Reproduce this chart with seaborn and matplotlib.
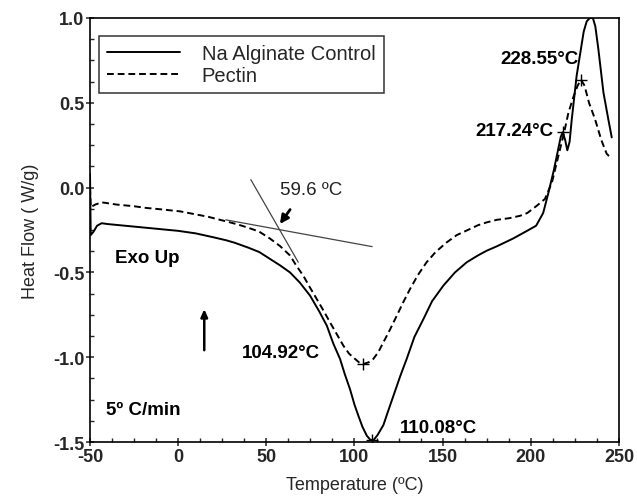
import numpy as np
import pandas as pd
import matplotlib
matplotlib.use("Agg")
import matplotlib.pyplot as plt
from matplotlib.ticker import MultipleLocator
import seaborn as sns

# DSC curves
temp_alg = [-50, -49.6, -48, -46, -43.4, -40, -35, -27, -15, -8, 0, 10, 20, 27, 32, 36, 40, 46,
            52, 58, 63.4, 69, 74.8, 80, 84.3, 88, 91.8, 94.5, 97.5, 100, 102.2, 104.5, 107, 109,
            110.7, 113, 116.4, 119, 122.1, 126, 129.6, 134, 139.1, 144, 150.4, 157, 163.7, 170,
            175, 181, 190, 197, 203, 207, 210, 213, 215, 217, 218.1, 219.5, 220.7, 222, 223.2,
            226, 228, 230, 231.7, 233.5, 235.2, 236.6, 238.3, 241.2, 244, 245.9]
flow_alg = [0.08, -0.28, -0.26, -0.225, -0.21, -0.215, -0.22, -0.228, -0.24, -0.247, -0.255,
            -0.27, -0.293, -0.31, -0.325, -0.34, -0.355, -0.38, -0.42, -0.46, -0.50, -0.56,
            -0.637, -0.73, -0.814, -0.92, -1.01, -1.10, -1.19, -1.28, -1.345, -1.41, -1.463,
            -1.487, -1.49, -1.46, -1.40, -1.32, -1.227, -1.11, -1.01, -0.88, -0.775, -0.67,
            -0.578, -0.50, -0.44, -0.40, -0.372, -0.345, -0.30, -0.26, -0.225, -0.15, -0.03,
            0.10, 0.2, 0.30, 0.326, 0.28, 0.22, 0.27, 0.40, 0.66, 0.79, 0.92, 0.98, 1.0, 1.0,
            0.95, 0.817, 0.56, 0.40, 0.296]

temp_pec = [-50, -49.6, -47, -43.4, -40, -35, -25, -18, -10, 1, 10, 17, 23.7, 29.4, 34, 38.9, 42,
            46, 52, 57.8, 63.4, 67, 71, 74.8, 78.6, 82.4, 86.1, 90, 93.7, 97, 100.3, 102.5, 105,
            108, 110.7, 113.5, 116.4, 120, 124, 127.7, 131.5, 136, 140.9, 146, 152.3, 158, 165.5,
            170, 175, 180.7, 188, 194, 198, 203.4, 208, 212, 216.6, 219, 221.3, 224, 226.5,
            228.5, 230.5, 233, 236.4, 240, 243, 245.9]
flow_pec = [0.0, -0.115, -0.10, -0.087, -0.092, -0.10, -0.11, -0.12, -0.128, -0.14, -0.158,
            -0.172, -0.19, -0.205, -0.218, -0.234, -0.245, -0.26, -0.30, -0.345, -0.40, -0.46,
            -0.52, -0.59, -0.657, -0.725, -0.794, -0.865, -0.932, -0.98, -1.01, -1.03, -1.04,
            -1.03, -1.01, -0.97, -0.912, -0.84, -0.755, -0.675, -0.598, -0.515, -0.44, -0.38,
            -0.323, -0.28, -0.244, -0.222, -0.205, -0.19, -0.18, -0.166, -0.15, -0.107, -0.067,
            0.031, 0.228, 0.33, 0.44, 0.53, 0.60, 0.636, 0.60, 0.50, 0.404, 0.28, 0.20, 0.169]

# peak markers
peak_x = [105.0, 110.1, 218.1, 228.5]
peak_y = [-1.04, -1.49, 0.326, 0.636]

# onset construction lines
base_x = [27, 110]
base_y = [-0.19, -0.348]
steep_x = [41.2, 68.1]
steep_y = [0.047, -0.44]

sns.set_style("ticks")
plt.rcParams['font.family'] = ['Liberation Sans', 'DejaVu Sans']
plt.rcParams['axes.unicode_minus'] = False

fig = plt.figure(figsize=(6.37, 5.02), dpi=100)
ax = fig.add_axes([0.1413, 0.1175, 0.8304, 0.8447])

df_alg = pd.DataFrame({'T': temp_alg, 'HF': flow_alg})
df_pec = pd.DataFrame({'T': temp_pec, 'HF': flow_pec})

sns.lineplot(data=df_alg, x='T', y='HF', ax=ax, color='black', lw=1.4,
             label='Na Alginate Control', sort=False)
sns.lineplot(data=df_pec, x='T', y='HF', ax=ax, color='black', lw=1.4,
             linestyle=(0, (3.5, 2)), label='Pectin', sort=False)

ax.plot(base_x, base_y, color='#444444', lw=0.9)
ax.plot(steep_x, steep_y, color='#444444', lw=0.9)
ax.plot(peak_x, peak_y, linestyle='none', marker='+', ms=9, mew=1.0, color='black')

bold = dict(fontsize=13.5, fontweight='bold', color='black')
ax.text(36.0, -0.97, '104.92°C', va='center', ha='left', **bold)
ax.text(125.8, -1.414, '110.08°C', va='center', ha='left', **bold)
ax.text(212.8, 0.336, '217.24°C', va='center', ha='right', **bold)
ax.text(227.0, 0.764, '228.55°C', va='center', ha='right', **bold)
ax.text(-35.8, -0.415, 'Exo Up', va='center', ha='left', **bold)
ax.text(-40.9, -1.308, '5º C/min', va='center', ha='left', **bold)
ax.text(57.8, -0.011, '59.6 ºC', va='center', ha='left', fontsize=13.5, color='#222222')

ax.annotate('', xy=(56.8, -0.228), xytext=(64.4, -0.116),
            arrowprops=dict(arrowstyle='-|>,head_length=0.5,head_width=0.25', lw=2, color='black'))
ax.annotate('', xy=(14.8, -0.70), xytext=(14.8, -0.975),
            arrowprops=dict(arrowstyle='-|>,head_length=0.45,head_width=0.2', lw=1.8, color='black'))

ax.set_xlim(-50, 250)
ax.set_ylim(-1.5, 1.0)
ax.xaxis.set_major_locator(MultipleLocator(50))
ax.xaxis.set_minor_locator(MultipleLocator(12.5))
ax.yaxis.set_major_locator(MultipleLocator(0.5))
ax.yaxis.set_minor_locator(MultipleLocator(0.125))
ax.tick_params(which='major', direction='inout', length=6, width=1.1, labelsize=13, pad=1)
ax.tick_params(which='minor', direction='in', length=3, width=1.0)
for lab in ax.get_xticklabels() + ax.get_yticklabels():
    lab.set_fontweight('bold')
for sp in ax.spines.values():
    sp.set_visible(True)
    sp.set_linewidth(1.2)
    sp.set_color('black')

ax.set_xlabel('Temperature (ºC)', fontsize=13, labelpad=8)
ax.set_ylabel('Heat Flow ( W/g)', fontsize=13, labelpad=10)

leg = ax.legend(loc='upper left', bbox_to_anchor=(0.017, 0.958), borderaxespad=0,
                fontsize=14.5, handlelength=3.6, handletextpad=1.1, frameon=True,
                fancybox=False, edgecolor='black', borderpad=0.4, labelspacing=0.15)
leg.get_frame().set_linewidth(1.1)

fig.savefig('out.png', dpi=100)
